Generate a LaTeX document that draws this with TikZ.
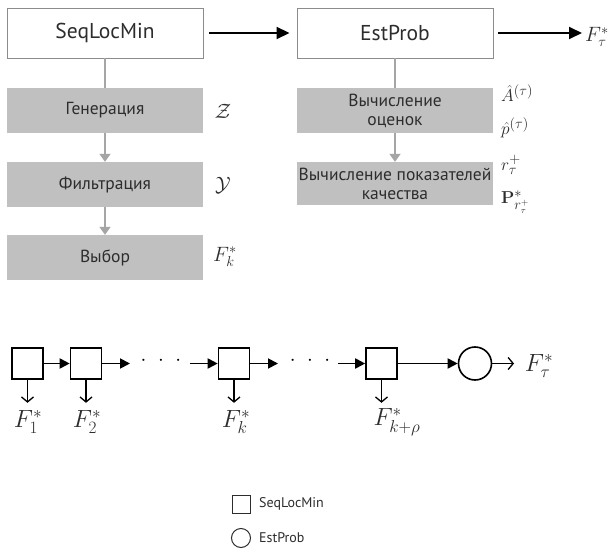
\documentclass[tikz,border=0pt]{standalone}
\usepackage{amsmath,amssymb}
\usepackage[no-math]{fontspec}
\setmainfont{PT Sans}
\usetikzlibrary{arrows.meta}
\definecolor{boxgray}{RGB}{192,192,192}
\definecolor{arrgray}{RGB}{165,165,165}
\definecolor{edgegray}{RGB}{140,140,140}
\definecolor{txtgray}{RGB}{45,45,45}
\tikzset{
  topbox/.style={draw=edgegray, line width=0.9pt, fill=white, minimum width=196pt, minimum height=50pt, inner sep=0pt, text=txtgray, font=\fontsize{21.5}{26}\selectfont},
  graybox/.style={fill=boxgray, minimum width=196pt, minimum height=45pt, inner sep=0pt, text=txtgray, align=center, font=\fontsize{17.5}{20}\selectfont},
  bigarrow/.style={line width=1.8pt, -{Triangle[length=13pt,width=12pt]}},
  grayarrow/.style={arrgray, line width=1.5pt, -{Triangle[length=8pt,width=11pt]}},
  grayline/.style={arrgray, line width=1.5pt},
  mlabel/.style={text=txtgray, font=\fontsize{19}{22}\selectfont, inner sep=0pt},
  sq/.style={draw, line width=1.6pt, minimum width=31pt, minimum height=31pt, inner sep=0pt},
  chainarrow/.style={line width=1.8pt, -{Triangle[length=10pt,width=10pt]}},
  downarrow/.style={line width=1.3pt, -{Straight Barb[length=5pt,width=12pt,line width=1.3pt]}},
  blabel/.style={font=\fontsize{24}{28}\selectfont, inner sep=0pt},
  legtext/.style={text=txtgray, font=\fontsize{14}{16}\selectfont, anchor=west, inner sep=0pt},
  dotsnode/.style={inner sep=0pt, font=\fontsize{22}{24}\selectfont}
}
\begin{document}
\begin{tikzpicture}[x=1pt,y=-1pt]
\useasboundingbox[fill=white] (0,0) rectangle (614,554);

% top boxes
\node[topbox] (seq) at (105,33) {SeqLocMin};
\node[topbox] (est) at (395,33) {EstProb};
\node[mlabel, anchor=west, font=\fontsize{22}{26}\selectfont] (ftau) at (585,37) {$F^*_\tau$};
\coordinate (ftauin) at (582,33);
\draw[bigarrow, shorten <=6pt, shorten >=7pt] (seq.east) -- (est.west);
\draw[bigarrow, shorten <=5pt] (est.east) -- (ftauin);

% left column
\node[graybox] (gen) at (105,110.5) {Генерация};
\node[graybox] (fil) at (105,184.5) {Фильтрация};
\node[graybox] (vyb) at (105,257.5) {Выбор};
\draw[grayline] (seq.south) -- (gen.north);
\draw[grayarrow] (gen.south) -- (fil.north);
\draw[grayarrow] (fil.south) -- (vyb.north);
\node[mlabel, font=\fontsize{20}{24}\selectfont] (lz) at (223,111) {$\mathcal{Z}$};
\node[mlabel, font=\fontsize{20}{24}\selectfont] (ly) at (223,185) {$\mathcal{Y}$};
\node[mlabel, font=\fontsize{20}{24}\selectfont] (lf) at (225,257) {$F^*_k$};

% right column
\node[graybox] (v1) at (395,110.5) {Вычисление\\[-1pt]оценок};
\node[graybox, minimum height=43pt] (v2) at (395,183.5) {Вычисление показателей\\[-1pt]качества};
\draw[grayline] (est.south) -- (v1.north);
\draw[grayarrow] (v1.south) -- (v2.north);
\node[mlabel, anchor=west] (la) at (501,93) {$\hat{A}^{(\tau)}$};
\node[mlabel, anchor=west] (lp) at (501,128) {$\hat{p}^{(\tau)}$};
\node[mlabel, anchor=west] (lr) at (501,165) {$r^+_\tau$};
\node[mlabel, anchor=west] (lP) at (501,202) {$\mathbf{P}^*_{r^+_\tau}$};

% bottom chain
\node[sq] (b1) at (27.5,363.5) {};
\node[sq] (b2) at (86,363.5) {};
\node[sq] (b3) at (234,363.5) {};
\node[sq] (b4) at (381.5,363.5) {};
\node[draw, circle, line width=1.6pt, minimum size=33pt, inner sep=0pt] (c) at (475,363.5) {};
\coordinate (e2) at (130,363.5);
\coordinate (s3) at (190,363.5);
\coordinate (e3) at (278,363.5);
\coordinate (s4) at (338,363.5);
\node[dotsnode] (dots1) at (161,361) {$\cdot\hspace{7pt}\cdot\hspace{7pt}\cdot$};
\node[dotsnode] (dots2) at (310,361) {$\cdot\hspace{7pt}\cdot\hspace{7pt}\cdot$};
\draw[chainarrow] (b1.east) -- (b2.west);
\draw[chainarrow] (b2.east) -- (e2);
\draw[chainarrow] (s3) -- (b3.west);
\draw[chainarrow] (b3.east) -- (e3);
\draw[chainarrow] (s4) -- (b4.west);
\draw[chainarrow] (b4.east) -- (c.west);
\node[blabel, text=txtgray] (ft2) at (539,366) {$F^*_\tau$};
\coordinate (ce) at (514,363.5);
\draw[downarrow] (c.east) -- (ce);

\foreach \b/\n in {b1/l1, b2/l2, b3/l3, b4/l4}{
  \draw[downarrow] (\b.south) -- ++(0,23) coordinate (\n a);
}
\node[blabel, text=txtgray] (l1) at (28,422) {$F^*_1$};
\node[blabel, text=txtgray] (l2) at (87,422) {$F^*_2$};
\node[blabel, text=txtgray] (l3) at (236,422) {$F^*_k$};
\node[blabel, text=txtgray] (l4) at (397,422) {$F^*_{k+\rho}$};

% legend
\node[draw=txtgray, line width=1pt, minimum size=18pt, inner sep=0pt] (lgs) at (241,504) {};
\node[legtext] (lgst) at (259,504) {SeqLocMin};
\node[draw=txtgray, circle, line width=1pt, minimum size=19pt, inner sep=0pt] (lgc) at (241,538) {};
\node[legtext] (lgct) at (259,538) {EstProb};
\end{tikzpicture}
\end{document}
